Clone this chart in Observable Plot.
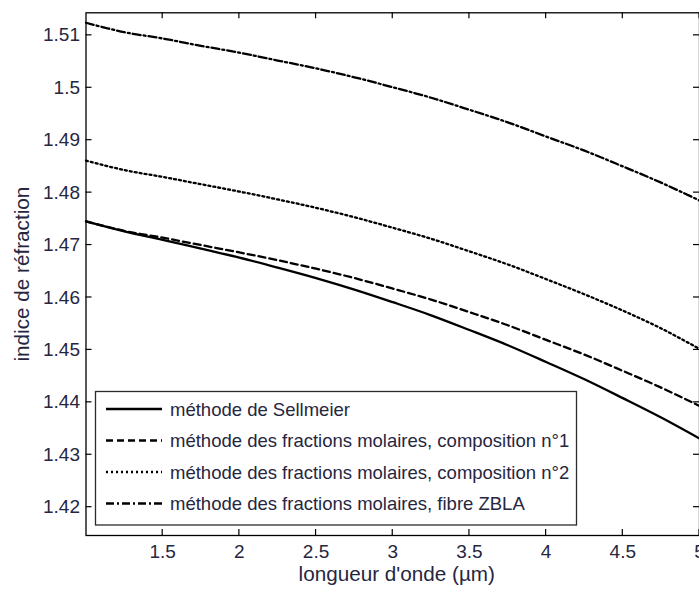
<!DOCTYPE html>
<html>
<head>
<meta charset="utf-8">
<script src="https://cdn.jsdelivr.net/npm/d3@7"></script>
<script src="https://cdn.jsdelivr.net/npm/@observablehq/plot@0.6"></script>
<style>
  html, body { margin: 0; padding: 0; background: #fff; }
  #chart svg { display: block; }
</style>
</head>
<body>
<div id="chart"></div>
<script>
// Wavelength (µm) at which each refractive index curve is sampled
const wavelength = [1.0, 1.25, 1.5, 1.75, 2.0, 2.25, 2.5, 2.75, 3.0, 3.25, 3.5, 3.75, 4.0, 4.25, 4.5, 4.75, 5.0];

// Refractive index for each method
const sellmeier = [1.4745, 1.4726, 1.4710, 1.4693, 1.4676, 1.4657, 1.4637, 1.4615, 1.4591, 1.4566, 1.4538, 1.4509, 1.4477, 1.4444, 1.4408, 1.4371, 1.4331];
const composition1 = [1.4745, 1.4727, 1.4714, 1.4700, 1.4686, 1.4671, 1.4655, 1.4637, 1.4617, 1.4596, 1.4572, 1.4547, 1.4519, 1.4491, 1.4460, 1.4428, 1.4393];
const composition2 = [1.4861, 1.4843, 1.4830, 1.4816, 1.4802, 1.4787, 1.4771, 1.4753, 1.4733, 1.4712, 1.4688, 1.4663, 1.4635, 1.4606, 1.4575, 1.4541, 1.4502];
const zbla = [1.5124, 1.5106, 1.5094, 1.5080, 1.5067, 1.5052, 1.5037, 1.5020, 1.5001, 1.4981, 1.4958, 1.4934, 1.4907, 1.4880, 1.4850, 1.4819, 1.4785];

// Series labels (legend order) and tick values
const seriesNames = [
  "méthode de Sellmeier",
  "méthode des fractions molaires, composition n°1",
  "méthode des fractions molaires, composition n°2",
  "méthode des fractions molaires, fibre ZBLA"
];
const xTicks = [1.5, 2, 2.5, 3, 3.5, 4, 4.5, 5];
const yTicks = [1.42, 1.43, 1.44, 1.45, 1.46, 1.47, 1.48, 1.49, 1.5, 1.51];
const xLabel = "longueur d'onde (µm)";
const yLabel = "indice de réfraction";

const seriesValues = [sellmeier, composition1, composition2, zbla];
const dashes = [null, "7,4", "2,3", "8,3,2,3"];

const rows = seriesValues.flatMap((vals, i) =>
  vals.map((n, j) => ({series: seriesNames[i], lambda: wavelength[j], n}))
);

const font = "Liberation Sans, Arial, sans-serif";
const textColor = "#26263f";

const chart = Plot.plot({
  width: 699,
  height: 595,
  marginLeft: 85.5,
  marginRight: 0,
  marginTop: 12.3,
  marginBottom: 60,
  style: {fontFamily: font, fontSize: "19px", background: "#fff", color: textColor},
  x: {domain: [1, 5]},
  y: {domain: [1.4146, 1.5143]},
  marks: [
    // curves
    ...seriesNames.map((name, i) =>
      Plot.line(rows.filter(d => d.series === name), {
        x: "lambda", y: "n", curve: "catmull-rom",
        stroke: "#000", strokeWidth: 2.3,
        strokeDasharray: dashes[i]
      })
    ),
    // tick labels
    Plot.axisX({ticks: xTicks, tickSize: 0, tickPadding: 9, tickFormat: d => String(d), label: null, fill: textColor}),
    Plot.axisY({ticks: yTicks, tickSize: 0, tickPadding: 6, tickFormat: d => String(d), label: null, fill: textColor}),
    Plot.frame({stroke: "#000", strokeWidth: 1.3}),
    // axis titles
    Plot.text([xLabel], {frameAnchor: "bottom", textAnchor: "middle", dy: 45, dx: 4, text: d => d, fontSize: 20.7, fill: textColor}),
    Plot.text([yLabel], {frameAnchor: "left", textAnchor: "middle", dx: -64, rotate: -90, text: d => d, fontSize: 20.7, fill: textColor})
  ]
});

const svg = d3.select(chart);
const sx = chart.scale("x"), sy = chart.scale("y");
const [frameLeft, frameRight] = sx.range;
const [frameBottom, frameTop] = sy.range;
const tickLen = 6;

// Inward ticks on all four sides of the box
const tickGroup = svg.append("g").attr("stroke", "#000").attr("stroke-width", 1.2);
xTicks.forEach(v => {
  const x = sx.apply(v);
  tickGroup.append("line").attr("x1", x).attr("x2", x).attr("y1", frameBottom).attr("y2", frameBottom - tickLen);
  tickGroup.append("line").attr("x1", x).attr("x2", x).attr("y1", frameTop).attr("y2", frameTop + tickLen);
});
yTicks.forEach(v => {
  const y = sy.apply(v);
  tickGroup.append("line").attr("y1", y).attr("y2", y).attr("x1", frameLeft).attr("x2", frameLeft + tickLen);
  tickGroup.append("line").attr("y1", y).attr("y2", y).attr("x1", frameRight).attr("x2", frameRight - tickLen);
});

// Legend box in the lower-left corner of the plot area
const legend = svg.append("g")
  .attr("font-family", font).attr("font-size", 18.5).attr("text-anchor", "start");
legend.append("rect")
  .attr("x", 95.5).attr("y", 391.5).attr("width", 481).attr("height", 133.5)
  .attr("fill", "#fff").attr("stroke", "#2b2b2b").attr("stroke-width", 1.3);
seriesNames.forEach((name, i) => {
  const y = 409 + i * 31.5;
  legend.append("line")
    .attr("x1", 106).attr("x2", 162).attr("y1", y).attr("y2", y)
    .attr("stroke", "#000").attr("stroke-width", 2.3)
    .attr("stroke-dasharray", dashes[i]);
  legend.append("text")
    .attr("x", 170).attr("y", y).attr("dy", "0.36em")
    .attr("text-anchor", "start")
    .attr("fill", textColor).text(name);
});

document.getElementById("chart").append(chart);
</script>
</body>
</html>
